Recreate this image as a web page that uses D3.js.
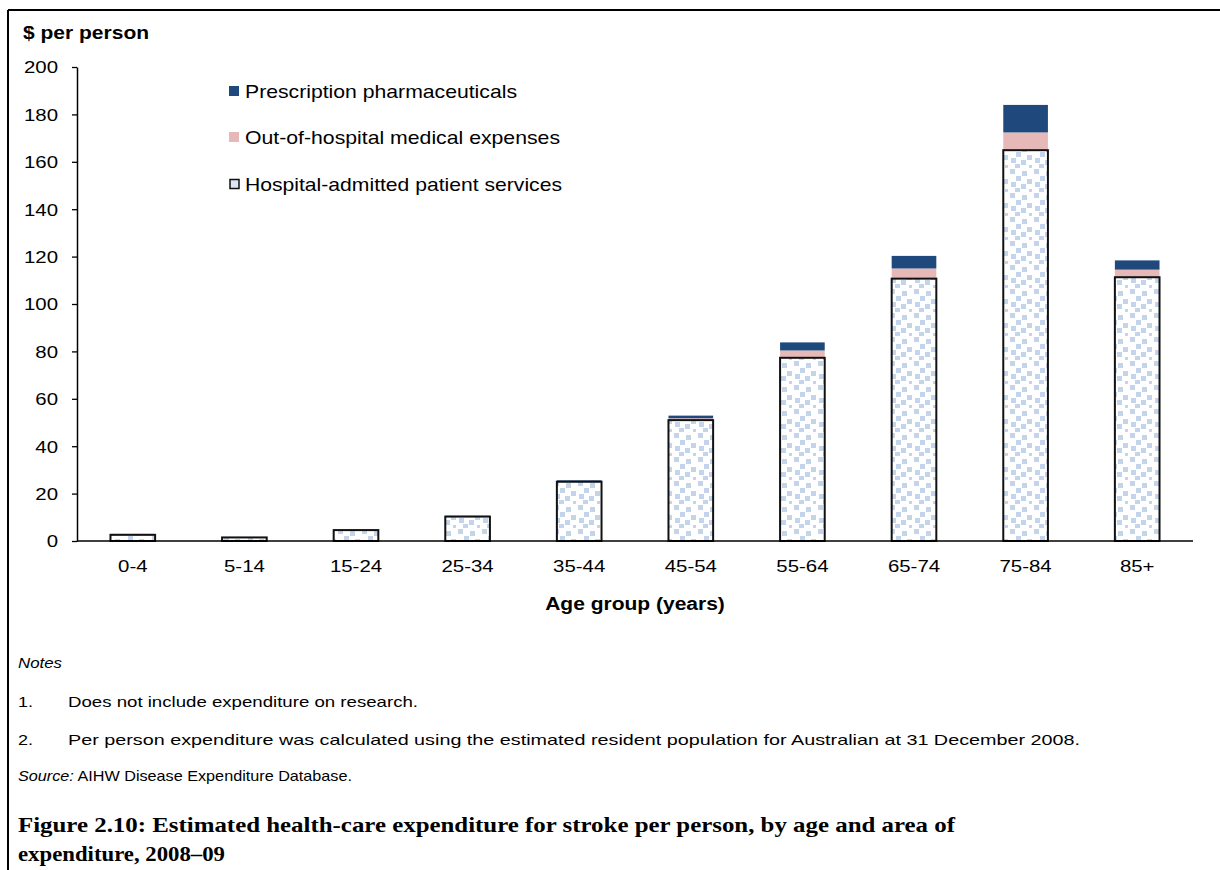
<!DOCTYPE html>
<html>
<head>
<meta charset="utf-8">
<script src="https://cdn.jsdelivr.net/npm/d3@7"></script>
<style>
  html, body { margin: 0; padding: 0; background: #fff; }
  svg { display: block; }
</style>
</head>
<body>
<svg id="chart" width="1220" height="870"></svg>
<script>
// Age groups and per-person expenditure ($) by area of expenditure
const ageGroups = ["0-4", "5-14", "15-24", "25-34", "35-44", "45-54", "55-64", "65-74", "75-84", "85+"];
const hospitalAdmitted = [2.6, 1.5, 4.6, 10.3, 25.0, 51.0, 77.3, 110.7, 164.9, 111.3];
const outOfHospital    = [0.1, 0.1, 0.1, 0.3, 0.4, 0.8, 3.1, 4.3, 7.5, 3.2];
const pharmaceuticals  = [0.3, 0.1, 0.1, 0.1, 0.3, 1.1, 3.4, 5.3, 11.6, 3.9];
const yTicks = [0, 20, 40, 60, 80, 100, 120, 140, 160, 180, 200];

const seriesNames = ["Prescription pharmaceuticals", "Out-of-hospital medical expenses", "Hospital-admitted patient services"];
const noteLines = [
  "Does not include expenditure on research.",
  "Per person expenditure was calculated using the estimated resident population for Australian at 31 December 2008."
];
const titleLines = [
  "Figure 2.10: Estimated health-care expenditure for stroke per person, by age and area of",
  "expenditure, 2008\u201309"
];

const SANS = "'Liberation Sans', Arial, sans-serif";
const SERIF = "'Liberation Serif', 'Times New Roman', serif";
const STRETCH = 1.2;   // horizontal widening applied to the text glyphs

const svg = d3.select("#chart");
const defs = svg.append("defs");

// light-blue speckle fill used for the hospital-admitted segment
const blur = defs.append("filter").attr("id", "soft").attr("x", "-20%").attr("y", "-20%").attr("width", "140%").attr("height", "140%");
blur.append("feGaussianBlur").attr("stdDeviation", 0.7);
const pat = defs.append("pattern").attr("id", "speckle").attr("patternUnits", "userSpaceOnUse")
  .attr("width", 24).attr("height", 24);
pat.append("rect").attr("width", 24).attr("height", 24).attr("fill", "#fff");
const dots = [[2,1],[14,3],[8,8],[19,11],[3,14],[13,16],[7,20],[21,21]];
pat.append("g").attr("filter", "url(#soft)").selectAll("rect").data(dots).join("rect")
  .attr("x", d => d[0]).attr("y", d => d[1]).attr("width", 5).attr("height", 5).attr("fill", "#c3d4eb");

const colors = { pharm: "#1f497d", oop: "#e6b9b8" };

// frame
svg.append("line").attr("x1", 8).attr("x2", 1220).attr("y1", 10).attr("y2", 10).attr("stroke", "#000").attr("stroke-width", 2);
svg.append("line").attr("x1", 8).attr("x2", 8).attr("y1", 10).attr("y2", 870).attr("stroke", "#000").attr("stroke-width", 2);

const margin = { left: 77, right: 1193, top: 67, bottom: 541 };
const x = d3.scaleBand().domain(ageGroups).range([margin.left, margin.right]).paddingInner(0.6).paddingOuter(0.3);
const y = d3.scaleLinear().domain([0, 200]).range([margin.bottom, margin.top]);

function stretch(sel, f) {
  sel.each(function () {
    const w = this.getComputedTextLength();
    d3.select(this).attr("textLength", w * f).attr("lengthAdjust", "spacingAndGlyphs");
  });
}
function fitWidth(sel, w) {
  sel.attr("textLength", w).attr("lengthAdjust", "spacingAndGlyphs");
}

// stacked data
const stackRows = ageGroups.map((g, i) => ({ group: g, hosp: hospitalAdmitted[i], oop: outOfHospital[i], pharm: pharmaceuticals[i] }));
const stacked = d3.stack().keys(["hosp", "oop", "pharm"])(stackRows);

const plot = svg.append("g");
// upper segments
plot.selectAll("g.layer").data(stacked.slice(1)).join("g").attr("class", "layer")
  .attr("fill", d => colors[d.key])
  .selectAll("rect").data(d => d).join("rect")
  .attr("x", d => x(d.data.group)).attr("width", x.bandwidth())
  .attr("y", d => y(d[1])).attr("height", d => y(d[0]) - y(d[1]));
// hospital segment with outline
plot.selectAll("rect.hosp").data(stacked[0]).join("rect").attr("class", "hosp")
  .attr("x", d => x(d.data.group)).attr("width", x.bandwidth())
  .attr("y", d => y(d[1])).attr("height", d => y(d[0]) - y(d[1]))
  .attr("fill", "url(#speckle)").attr("stroke", "#111").attr("stroke-width", 2);

// y axis
const yAxis = svg.append("g").attr("transform", `translate(${margin.left},0)`)
  .call(d3.axisLeft(y).tickValues(yTicks).tickSize(5).tickPadding(14).tickSizeOuter(0));
yAxis.select(".domain").attr("stroke", "#000").attr("stroke-width", 1.5);
yAxis.selectAll(".tick line").attr("stroke", "#000").attr("stroke-width", 1.3);
yAxis.selectAll("text").attr("font-family", SANS).attr("font-size", 17).attr("fill", "#000").attr("dy", "0.35em");
stretch(yAxis.selectAll("text"), STRETCH);

// x axis
const xAxis = svg.append("g").attr("transform", `translate(0,${margin.bottom})`)
  .call(d3.axisBottom(x).tickSize(0).tickPadding(19));
xAxis.select(".domain").attr("stroke", "#000").attr("stroke-width", 1.5)
  .attr("d", `M${margin.left},0H1193`);
xAxis.selectAll("text").attr("font-family", SANS).attr("font-size", 17).attr("fill", "#000");
stretch(xAxis.selectAll("text"), STRETCH);

// axis titles
const yTitle = svg.append("text").attr("x", 23).attr("y", 39).attr("font-family", SANS).attr("font-weight", "bold")
  .attr("font-size", 17.5).text("$ per person");
stretch(yTitle, STRETCH);
const xTitle = svg.append("text").attr("x", 635).attr("y", 610).attr("text-anchor", "middle").attr("font-family", SANS)
  .attr("font-weight", "bold").attr("font-size", 17.5).text("Age group (years)");
stretch(xTitle, STRETCH);

// legend
const legendY = [91, 137, 184];
const legendWidths = [272, 315, 317];
const leg = svg.append("g");
seriesNames.forEach((name, i) => {
  const cy = legendY[i];
  if (i === 2) {
    leg.append("rect").attr("x", 230).attr("y", cy - 4.5).attr("width", 9).attr("height", 9)
      .attr("fill", "#dbe5f3").attr("stroke", "#111").attr("stroke-width", 1.5);
  } else {
    leg.append("rect").attr("x", 229).attr("y", cy - 5).attr("width", 10).attr("height", 10)
      .attr("fill", i === 0 ? colors.pharm : colors.oop);
  }
  const t = leg.append("text").attr("x", 245).attr("y", cy + 6.5).attr("font-family", SANS).attr("font-size", 19)
    .text(name);
  fitWidth(t, legendWidths[i]);
});

// notes
const notes = svg.append("g").attr("font-family", SANS).attr("font-size", 15).attr("fill", "#000");
fitWidth(notes.append("text").attr("x", 18).attr("y", 668).attr("font-style", "italic").text("Notes"), 44);
const noteWidths = [350, 1012];
noteLines.forEach((line, i) => {
  const yy = 707 + i * 38;
  stretch(notes.append("text").attr("x", 18).attr("y", yy).text(`${i + 1}.`), STRETCH);
  fitWidth(notes.append("text").attr("x", 68).attr("y", yy).text(line), noteWidths[i]);
});
const src = notes.append("text").attr("x", 18).attr("y", 781);
src.append("tspan").attr("font-style", "italic").text("Source:");
src.append("tspan").text(" AIHW Disease Expenditure Database.");
fitWidth(src, 334);

// figure caption
const titleWidths = [937, 207];
titleLines.forEach((line, i) => {
  const t = svg.append("text").attr("x", 18).attr("y", 832 + i * 29).attr("font-family", SERIF)
    .attr("font-weight", "bold").attr("font-size", 21.5).text(line);
  fitWidth(t, titleWidths[i]);
});
</script>
</body>
</html>
